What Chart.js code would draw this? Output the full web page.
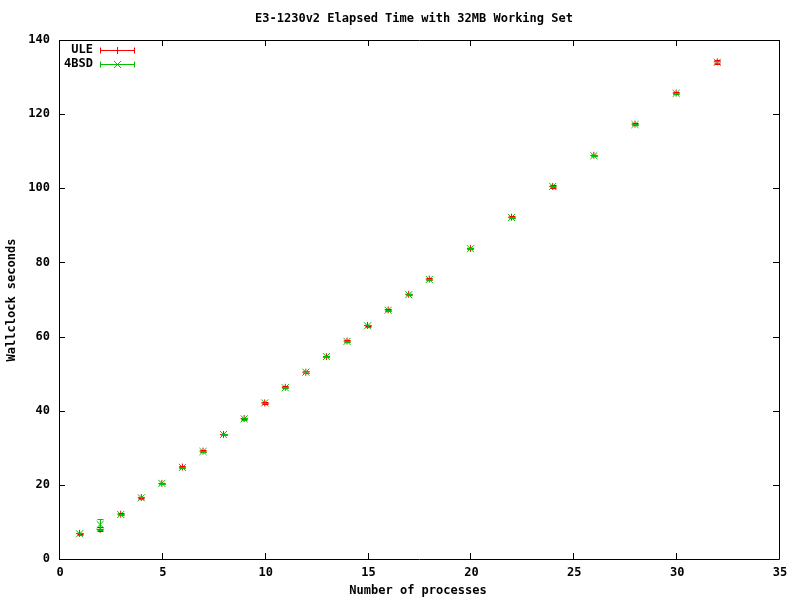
<!DOCTYPE html>
<html>
<head>
<meta charset="utf-8">
<script src="https://cdn.jsdelivr.net/npm/chart.js@4/dist/chart.umd.min.js"></script>
<style>
  body { margin: 0; background: #fff; }
</style>
</head>
<body>
<canvas id="plot" width="800" height="600"></canvas>
<script>
// data
var procs = [1, 2, 3, 4, 5, 6, 7, 8, 9, 10, 11, 12, 13, 14, 15, 16, 17, 18, 20, 22, 24, 26, 28, 30, 32];
var uleTime = [6.9, 8.0, 12.1, 16.6, 20.4, 24.8, 29.1, 33.6, 37.9, 42.1, 46.3, 50.4, 54.6, 58.8, 63.0, 67.2, 71.4, 75.5, 83.8, 92.2, 100.5, 108.9, 117.3, 125.7, 134.1];
var uleErr = [0.2, 0.5, 0.2, 0.2, 0.2, 0.2, 0.2, 0.2, 0.2, 0.3, 0.3, 0.2, 0.2, 0.2, 0.2, 0.2, 0.2, 0.2, 0.2, 0.2, 0.3, 0.2, 0.2, 0.2, 0.5];
var bsdTime = [6.8, 9.3, 12.0, 16.5, 20.4, 24.7, 29.0, 33.6, 37.8, 42.1, 46.2, 50.4, 54.6, 58.7, 62.9, 67.1, 71.3, 75.4, 83.7, 92.1, 100.5, 108.8, 117.2, 125.6, 134.0];
var bsdErr = [0.2, 1.5, 0.2, 0.2, 0.2, 0.2, 0.2, 0.2, 0.2, 0.1, 0.1, 0.2, 0.2, 0.2, 0.2, 0.2, 0.2, 0.2, 0.2, 0.2, 0.2, 0.2, 0.2, 0.2, 0.3];
var xTicks = [0, 5, 10, 15, 20, 25, 30, 35];
var yTicks = [0, 20, 40, 60, 80, 100, 120, 140];
var seriesNames = ["ULE", "4BSD"];

var RED = "#ff0000";
var GREEN = "#00c000";
var FONT = "bold 12px 'DejaVu Sans Mono'";

function pts(xs, ys) {
    return xs.map(function (x, i) { return { x: x, y: ys[i] }; });
}

function drawBars(ctx, xs, ys, errs, color, xs_, ys_) {
    ctx.strokeStyle = color;
    ctx.lineWidth = 1;
    ctx.beginPath();
    for (var i = 0; i < xs.length; i++) {
        var px = Math.round(xs_.getPixelForValue(xs[i])) + 0.5;
        var top = Math.round(ys_.getPixelForValue(ys[i] + errs[i])) + 0.5;
        var bot = Math.round(ys_.getPixelForValue(ys[i] - errs[i])) + 0.5;
        ctx.moveTo(px, top); ctx.lineTo(px, bot);
        ctx.moveTo(px - 3, top); ctx.lineTo(px + 3, top);
        ctx.moveTo(px - 3, bot); ctx.lineTo(px + 3, bot);
    }
    ctx.stroke();
}

// gnuplot-like frame, inward ticks on all sides, labels, legend
var gnuFrame = {
    id: "gnuFrame",
    beforeDatasetsDraw: function (chart) {
        var ctx = chart.ctx, a = chart.chartArea;
        var xs = chart.scales.x, ys = chart.scales.y;
        ctx.save();
        ctx.strokeStyle = "#000";
        ctx.lineWidth = 1;
        ctx.beginPath();
        ctx.rect(Math.round(a.left) + 0.5, Math.round(a.top) + 0.5,
                 Math.round(a.right - a.left), Math.round(a.bottom - a.top));
        xTicks.forEach(function (v) {
            var px = Math.round(xs.getPixelForValue(v)) + 0.5;
            ctx.moveTo(px, a.bottom); ctx.lineTo(px, a.bottom - 6);
            ctx.moveTo(px, a.top); ctx.lineTo(px, a.top + 6);
        });
        yTicks.forEach(function (v) {
            var py = Math.round(ys.getPixelForValue(v)) + 0.5;
            ctx.moveTo(a.left, py); ctx.lineTo(a.left + 6, py);
            ctx.moveTo(a.right, py); ctx.lineTo(a.right - 6, py);
        });
        ctx.stroke();

        ctx.fillStyle = "#000";
        ctx.font = FONT;
        ctx.textBaseline = "middle";
        ctx.textAlign = "right";
        yTicks.forEach(function (v) {
            ctx.fillText(String(v), a.left - 9, ys.getPixelForValue(v));
        });
        ctx.textAlign = "center";
        xTicks.forEach(function (v) {
            ctx.fillText(String(v), xs.getPixelForValue(v) + 1, a.bottom + 14);
        });
        ctx.fillText("E3-1230v2 Elapsed Time with 32MB Working Set", 414, 19);
        ctx.fillText("Number of processes", 418, 591);
        ctx.save();
        ctx.translate(12, 300);
        ctx.rotate(-Math.PI / 2);
        ctx.fillText("Wallclock seconds", 0, 0);
        ctx.restore();

        // legend
        var colors = [RED, GREEN];
        var styles = ["cross", "crossRot"];
        var radii = [3.5, 5];
        seriesNames.forEach(function (name, i) {
            var y = a.top + 10 + i * 14;
            ctx.fillStyle = "#000";
            ctx.textAlign = "right";
            ctx.fillText(name, a.left + 34, y);
            var yl = Math.round(y) + 0.5;
            ctx.strokeStyle = colors[i];
            ctx.beginPath();
            ctx.moveTo(a.left + 41, yl); ctx.lineTo(a.left + 75, yl);
            ctx.moveTo(a.left + 41.5, yl - 3); ctx.lineTo(a.left + 41.5, yl + 3);
            ctx.moveTo(a.left + 75.5, yl - 3); ctx.lineTo(a.left + 75.5, yl + 3);
            ctx.stroke();
            Chart.helpers.drawPoint(ctx, {
                pointStyle: styles[i], radius: radii[i], borderWidth: 1,
                borderColor: colors[i]
            }, a.left + 58.5, yl);
        });
        ctx.restore();
    },
    afterDatasetsDraw: function (chart) {
        var ctx = chart.ctx;
        ctx.save();
        drawBars(ctx, procs, uleTime, uleErr, RED, chart.scales.x, chart.scales.y);
        drawBars(ctx, procs, bsdTime, bsdErr, GREEN, chart.scales.x, chart.scales.y);
        ctx.restore();
    }
};

document.addEventListener("DOMContentLoaded", function () {
    var ctx = document.getElementById("plot").getContext("2d");
    new Chart(ctx, {
        type: "scatter",
        data: {
            datasets: [{
                label: seriesNames[0],
                data: pts(procs, uleTime),
                pointStyle: "cross",
                pointRadius: 3.5,
                pointBorderWidth: 1,
                borderColor: RED,
                backgroundColor: RED,
                order: 1
            }, {
                label: seriesNames[1],
                data: pts(procs, bsdTime),
                pointStyle: "crossRot",
                pointRadius: 5,
                pointBorderWidth: 1,
                borderColor: GREEN,
                backgroundColor: GREEN,
                order: 0
            }]
        },
        options: {
            responsive: false,
            animation: false,
            layout: { padding: { left: 59, right: 21, top: 40, bottom: 41 } },
            plugins: { legend: { display: false }, tooltip: { enabled: false } },
            scales: {
                x: { type: "linear", min: 0, max: 35, display: false },
                y: { type: "linear", min: 0, max: 140, display: false }
            },
            elements: { point: { hoverRadius: 5 } }
        },
        plugins: [gnuFrame]
    });
});
</script>
</body>
</html>
